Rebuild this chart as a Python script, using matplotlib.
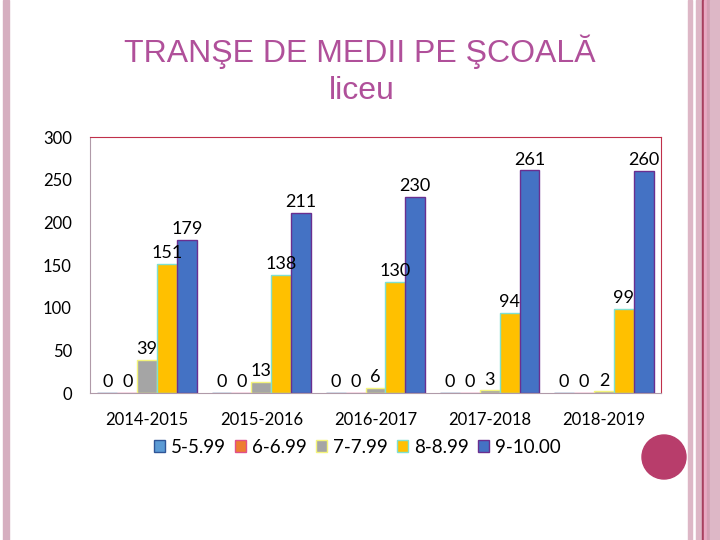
import matplotlib
matplotlib.use('Agg')
import matplotlib.pyplot as plt
from matplotlib.patches import Rectangle, Ellipse
import numpy as np

# data
years = ['2014-2015', '2015-2016', '2016-2017', '2017-2018', '2018-2019']
series = ['5-5.99', '6-6.99', '7-7.99', '8-8.99', '9-10.00']
m5 = [0, 0, 0, 0, 0]
m6 = [0, 0, 0, 0, 0]
m7 = [39, 13, 6, 3, 2]
m8 = [151, 138, 130, 94, 99]
m9 = [179, 211, 230, 261, 260]

fills = ['#5b9bd5', '#ed7d31', '#a5a5a5', '#ffc000', '#4472c4']
edges = ['#2f5597', '#e0508a', '#f4f47a', '#7fe0d0', '#6a2f8f']

plt.rcParams['font.family'] = ['Lato', 'DejaVu Sans']

fig = plt.figure(figsize=(7.2, 5.4), dpi=100)

# slide decorations (pink stripes and the round bullet)
fig.patches.append(Rectangle((3/720, 0), 6/720, 1, transform=fig.transFigure, color='#d6afc0', zorder=0))
for x0, w, c in [(688, 4, '#ddb7c6'), (696, 6, '#ddb7c6'), (702, 1.5, '#a8405f'),
                 (703.5, 3.5, '#e9a9c2'), (707, 3, '#d39fb3'), (710, 10, '#ddb7c6')]:
    fig.patches.append(Rectangle((x0/720, 0), w/720, 1, transform=fig.transFigure, color=c, zorder=0))
fig.patches.append(Ellipse((664/720, 1 - 457/540), 44/720, 44/540, transform=fig.transFigure,
                           color='#b83d6b', zorder=0))

fig.text(0.5, 1 - 52/540, 'TRANŞE DE MEDII PE ŞCOALĂ', ha='center', va='center',
         fontsize=23, color='#b0509a', family='Liberation Sans')
fig.text(0.502, 1 - 91/540, 'liceu', ha='center', va='center',
         fontsize=23, color='#b0509a', family='Liberation Sans')

ax = fig.add_axes([90/720, 1 - 393/540, 571/720, 256/540])
x = np.arange(len(years))
w = 0.174
for i, vals in enumerate([m5, m6, m7, m8, m9]):
    pos = x + (i - 2) * w
    ax.bar(pos, vals, w, color=fills[i], edgecolor=edges[i], linewidth=1, label=series[i])
    for p, v in zip(pos, vals):
        ax.annotate(str(v), (p, v), xytext=(0, 2), textcoords='offset points',
                    ha='center', va='bottom', fontsize=13)

ax.set_xlim(-0.5, 4.5)
ax.set_ylim(0, 300)
ax.set_yticks(range(0, 301, 50))
ax.set_xticks(x)
ax.set_xticklabels(years)
ax.tick_params(length=0, labelsize=12)
ax.tick_params(axis='y', pad=13)
ax.tick_params(axis='x', pad=14)
for s in ['top', 'right']:
    ax.spines[s].set_color('#c0304a')
for s in ['left', 'bottom']:
    ax.spines[s].set_color('#b09aa8')

ax.legend(loc='center', bbox_to_anchor=(0.496, 0.172), bbox_transform=fig.transFigure,
          ncol=5, frameon=False, fontsize=13.5, handlelength=0.6, handleheight=0.6,
          handletextpad=0.3, columnspacing=0.5)

fig.savefig('out.png', dpi=100)
